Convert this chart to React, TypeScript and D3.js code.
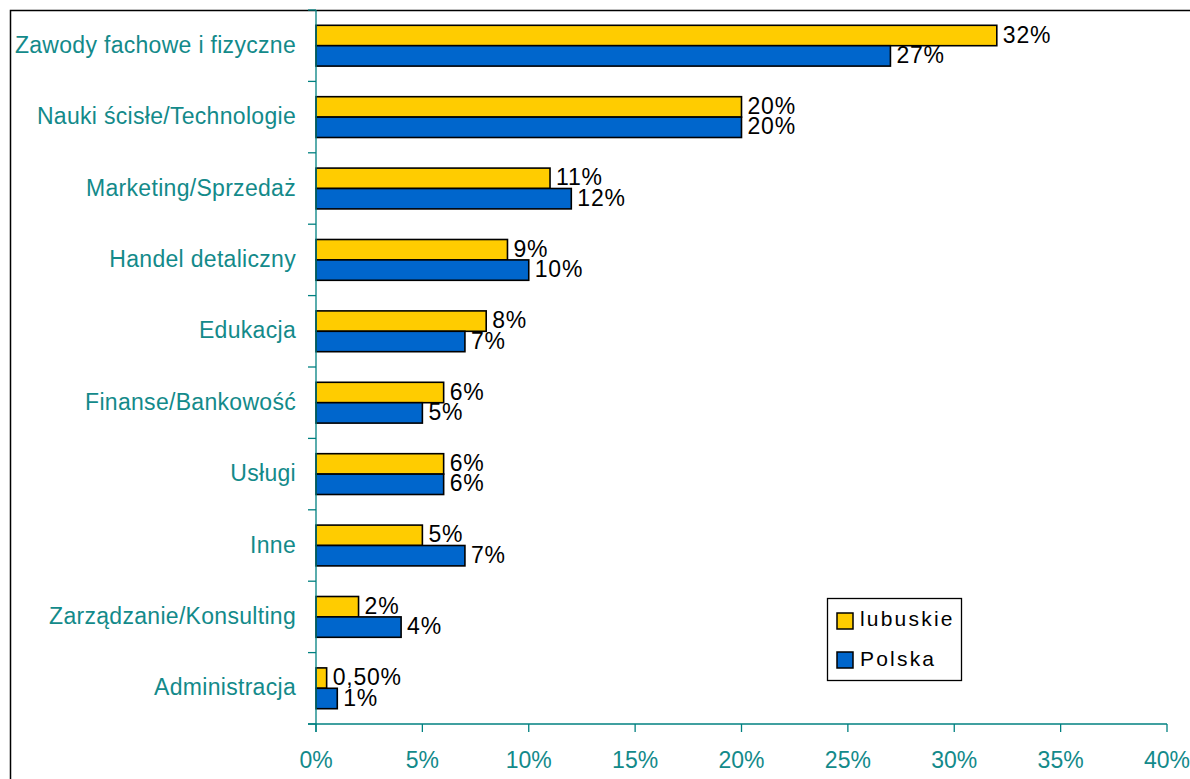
import React from "react";
import * as d3 from "d3";

const categories = [
  "Zawody fachowe i fizyczne",
  "Nauki ścisłe/Technologie",
  "Marketing/Sprzedaż",
  "Handel detaliczny",
  "Edukacja",
  "Finanse/Bankowość",
  "Usługi",
  "Inne",
  "Zarządzanie/Konsulting",
  "Administracja",
];
const lubuskie = [32, 20, 11, 9, 8, 6, 6, 5, 2, 0.5];
const polska = [27, 20, 12, 10, 7, 5, 6, 7, 4, 1];
const lubuskieLabels = ["32%", "20%", "11%", "9%", "8%", "6%", "6%", "5%", "2%", "0,50%"];
const polskaLabels = ["27%", "20%", "12%", "10%", "7%", "5%", "6%", "7%", "4%", "1%"];
const xTicks = [0, 5, 10, 15, 20, 25, 30, 35, 40];
const seriesNames = ["lubuskie", "Polska"];
const seriesColors = ["#FFCC00", "#0066CC"];

const W = 1190;
const H = 779;
const left = 316;
const right = 1167;
const top = 10;
const bottom = 724;
const teal = "#008080";
const tealText = "#138A8A";
const font = "Arial, 'Liberation Sans', sans-serif";

export default function App() {
  const x = d3.scaleLinear().domain([0, 40]).range([left, right]);
  const y = d3.scaleBand<string>().domain(categories).range([top, bottom]).paddingInner(0).paddingOuter(0);
  const band = y.bandwidth();
  const barH = band / 3.5;
  const boundaries = d3.range(categories.length + 1).map((i) => top + i * band);

  return (
    <svg width={W} height={H} style={{ position: "absolute", left: 0, top: 0, display: "block", background: "#fff" }} fontFamily={font}>
      <rect x={10.5} y={10.5} width={W + 20} height={H + 20} fill="none" stroke="#000" strokeWidth={1.5} />
      {/* bars */}
      {categories.map((c, i) => {
        const c0 = (y(c) as number) + band / 2;
        const vals = [lubuskie[i], polska[i]];
        const labs = [lubuskieLabels[i], polskaLabels[i]];
        return (
          <g key={c}>
            {vals.map((v, s) => {
              const by = c0 - barH + s * barH;
              return (
                <g key={s}>
                  <rect x={x(0)} y={by} width={x(v) - x(0)} height={barH} fill={seriesColors[s]} stroke="#000" strokeWidth={1.6} />
                  <text x={x(v) + 6} y={by + barH / 2 + 7} fontSize={23} letterSpacing={0.8} fill="#000">
                    {labs[s]}
                  </text>
                </g>
              );
            })}
            <text x={296} y={c0 + 7} fontSize={23} letterSpacing={0.3} fill={tealText} textAnchor="end">
              {c}
            </text>
          </g>
        );
      })}
      {/* y axis */}
      <line x1={left} x2={left} y1={top} y2={bottom + 8} stroke={teal} strokeWidth={1.3} />
      {boundaries.map((b, i) => (
        <line key={i} x1={left - 8} x2={left} y1={b} y2={b} stroke={teal} strokeWidth={1.3} />
      ))}
      {/* x axis */}
      <line x1={left - 8} x2={right} y1={bottom} y2={bottom} stroke={teal} strokeWidth={1.3} />
      {xTicks.map((t) => (
        <g key={t}>
          <line x1={x(t)} x2={x(t)} y1={bottom} y2={bottom + 8} stroke={teal} strokeWidth={1.3} />
          <text x={x(t)} y={768} fontSize={23} fill={tealText} textAnchor="middle">
            {t}%
          </text>
        </g>
      ))}
      {/* legend */}
      <rect x={827.5} y={598.5} width={134} height={82} fill="#fff" stroke="#000" strokeWidth={1.3} />
      {seriesNames.map((n, i) => (
        <g key={n}>
          <rect x={837} y={613 + i * 39} width={16} height={16} fill={seriesColors[i]} stroke="#000" strokeWidth={1.5} />
          <text x={860} y={626 + i * 40} fontSize={21} letterSpacing={2.2} fill="#000">
            {n}
          </text>
        </g>
      ))}
    </svg>
  );
}
